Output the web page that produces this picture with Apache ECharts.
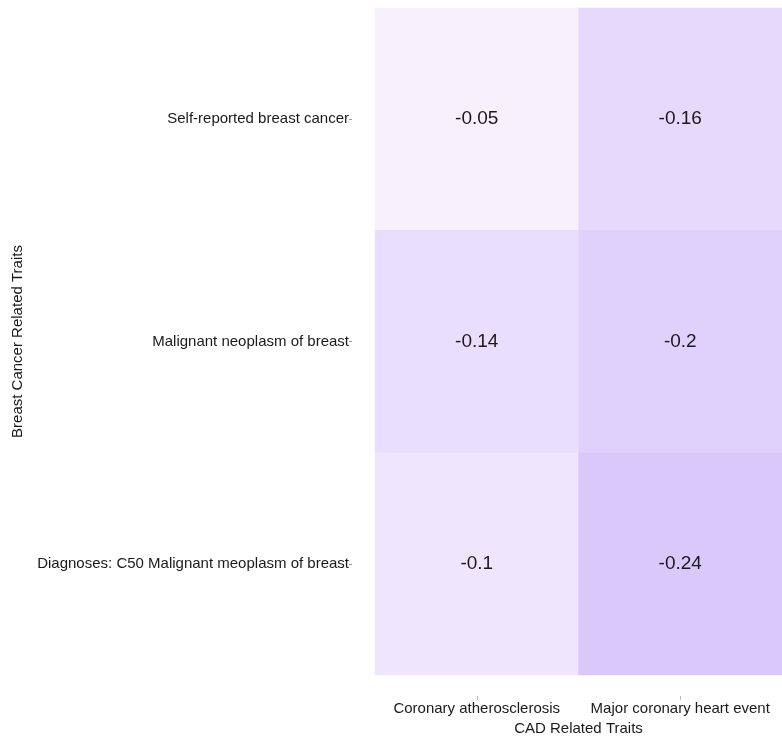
<!DOCTYPE html>
<html>
<head>
<meta charset="utf-8">
<script src="https://cdn.jsdelivr.net/npm/echarts@6/dist/echarts.min.js"></script>
<style>
html,body{margin:0;padding:0;background:#fff;}
#chart{width:782px;height:737px;}
</style>
</head>
<body>
<div id="chart"></div>
<script>
const cadTraits = ['Coronary atherosclerosis', 'Major coronary heart event'];
const breastTraits = ['Self-reported breast cancer', 'Malignant neoplasm of breast', 'Diagnoses: C50 Malignant meoplasm of breast'];
// values[row][col], rows follow breastTraits, cols follow cadTraits
const corrSelfReported = [-0.05, -0.16];
const corrMalignant = [-0.14, -0.2];
const corrDiagnosesC50 = [-0.1, -0.24];
const valueRows = [corrSelfReported, corrMalignant, corrDiagnosesC50];

const data = [];
valueRows.forEach((row, r) => row.forEach((v, c) => data.push([c, r, v])));

const font = '"Liberation Sans", Arial, sans-serif';
const chart = echarts.init(document.getElementById('chart'));
chart.setOption({
  backgroundColor: '#ffffff',
  animation: false,
  textStyle: { fontFamily: font },
  grid: { left: 375, right: 0, top: 8, bottom: 62, containLabel: false, outerBoundsMode: 'none' },
  xAxis: {
    type: 'category',
    data: cadTraits,
    position: 'bottom',
    offset: 21,
    name: 'CAD Related Traits',
    nameLocation: 'middle',
    nameGap: 25,
    nameTextStyle: { fontSize: 15, color: '#1a1a1a', fontFamily: font },
    axisLine: { show: false },
    axisTick: { show: true, alignWithLabel: true, length: 4, lineStyle: { color: '#bbb' } },
    axisLabel: { fontSize: 15, color: '#1a1a1a', margin: 5, interval: 0, hideOverlap: false, fontFamily: font },
    splitLine: { show: false }
  },
  yAxis: {
    type: 'category',
    data: breastTraits,
    inverse: true,
    offset: 23,
    name: 'Breast Cancer Related Traits',
    nameLocation: 'middle',
    nameRotate: 90,
    nameGap: 327,
    nameTextStyle: { fontSize: 15, color: '#1a1a1a', fontFamily: font },
    axisLine: { show: false },
    axisTick: { show: true, alignWithLabel: true, length: 3, lineStyle: { color: '#999' } },
    axisLabel: { fontSize: 15, color: '#1a1a1a', margin: 3, interval: 0, fontFamily: font },
    splitLine: { show: false }
  },
  visualMap: {
    show: false,
    type: 'continuous',
    min: -0.24,
    max: -0.05,
    inRange: { color: ['#dac8fb', '#f7f1fe'] }
  },
  series: [{
    type: 'heatmap',
    data: data,
    label: {
      show: true,
      fontSize: 19,
      color: '#1a1a1a',
      fontFamily: font,
      formatter: p => String(p.value[2])
    },
    itemStyle: { borderWidth: 0 },
    emphasis: { disabled: true }
  }]
});
</script>
</body>
</html>
